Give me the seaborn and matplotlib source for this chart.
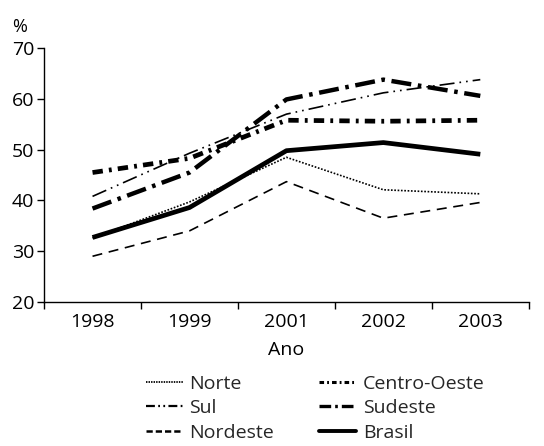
import matplotlib
matplotlib.use("Agg")
import matplotlib.pyplot as plt
import seaborn as sns
import pandas as pd
import numpy as np
from matplotlib.lines import Line2D

anos = ["1998", "1999", "2001", "2002", "2003"]
norte = [32.6, 39.7, 48.5, 42.1, 41.3]
nordeste = [29.0, 34.0, 43.7, 36.5, 39.6]
sul = [40.8, 49.3, 57.0, 61.2, 63.8]
centro_oeste = [45.5, 48.3, 55.8, 55.6, 55.8]
sudeste = [38.4, 45.5, 59.9, 63.8, 60.6]
brasil = [32.7, 38.6, 49.8, 51.4, 49.1]

series = {
    "Norte": norte,
    "Sul": sul,
    "Nordeste": nordeste,
    "Centro-Oeste": centro_oeste,
    "Sudeste": sudeste,
    "Brasil": brasil,
}
styles = {
    "Norte": dict(lw=1.2, dashes=(1, 1)),
    "Sul": dict(lw=1.2, dashes=(9, 3, 1, 3, 1, 3)),
    "Nordeste": dict(lw=1.2, dashes=(6, 4)),
    "Centro-Oeste": dict(lw=3.4, dashes=(2.2, 1.3, 0.6, 1.3)),
    "Sudeste": dict(lw=3.2, dashes=(4.5, 1.5, 0.8, 1.5)),
    "Brasil": dict(lw=3.4, dashes=None),
}
legend_styles = {
    "Norte": dict(lw=1.3, dashes=(0.8, 0.6)),
    "Sul": dict(lw=1.6, dashes=(4, 1.5, 0.8, 1.5, 0.8, 1.5)),
    "Nordeste": dict(lw=1.8, dashes=(2.5, 1.2)),
    "Centro-Oeste": dict(lw=2.2, dashes=(1.5, 1.0, 0.6, 1.0)),
    "Sudeste": dict(lw=2.4, dashes=(3.5, 1.2, 0.8, 1.2)),
    "Brasil": dict(lw=2.8, dashes=None),
}

rows = []
for name, vals in series.items():
    for i, v in enumerate(vals):
        rows.append({"Região": name, "pos": i, "Ano": anos[i], "valor": v})
df = pd.DataFrame(rows)

sns.set_theme(style="white")
plt.rcParams["font.family"] = ["Open Sans", "DejaVu Sans"]

FS = 14

fig = plt.figure(figsize=(5.44, 4.46), dpi=100)
ax = fig.add_axes([0.081, 0.323, 0.891, 0.569])

order = ["Sul", "Centro-Oeste", "Sudeste", "Nordeste", "Norte", "Brasil"]
for name in order:
    d = df[df["Região"] == name]
    st = styles[name]
    sns.lineplot(data=d, x="pos", y="valor", ax=ax, color="black",
                 linewidth=st["lw"], legend=False)
    ln = ax.lines[-1]
    if st["dashes"] is not None:
        ln.set_dashes(st["dashes"])
    ln.set_solid_capstyle("butt")

ax.set_xlim(-0.5, 4.5)
ax.set_ylim(20, 70)
ax.set_yticks([20, 30, 40, 50, 60, 70])
ax.set_xticks(np.arange(-0.5, 5.0, 1.0))
ax.set_xticklabels([])
ax.set_xticks(np.arange(0, 5), minor=True)
ax.set_xticklabels(anos, minor=True)
ax.tick_params(axis="x", which="major", direction="out", length=5, width=1, color="black", bottom=True)
ax.tick_params(axis="x", which="minor", length=0, pad=8, labelsize=FS, colors="black")
ax.tick_params(axis="y", direction="out", length=5, width=1, color="black", left=True, labelsize=FS, labelcolor="black", pad=2)
for s in ["top", "right"]:
    ax.spines[s].set_visible(False)
for s in ["left", "bottom"]:
    ax.spines[s].set_color("black")
    ax.spines[s].set_linewidth(1)
ax.set_xlabel("Ano", fontsize=FS, color="black", labelpad=7)
ax.set_ylabel("")
fig.text(0.022, 0.940, "%", fontsize=FS - 1, color="black", ha="left", va="center")

handles = []
labels = []
for name in ["Norte", "Sul", "Nordeste", "Centro-Oeste", "Sudeste", "Brasil"]:
    st = legend_styles[name]
    h = Line2D([0], [0], color="black", linewidth=st["lw"])
    if st["dashes"] is not None:
        h.set_dashes(st["dashes"])
    handles.append(h)
    labels.append(name)
leg = fig.legend(handles, labels, ncol=2, loc="upper left",
                 bbox_to_anchor=(0.268, 0.160), frameon=False,
                 fontsize=FS, handlelength=1.9, handletextpad=0.35,
                 columnspacing=2.3, labelspacing=0.34, borderaxespad=0,
                 borderpad=0)

fig.savefig("out.png", dpi=100)
